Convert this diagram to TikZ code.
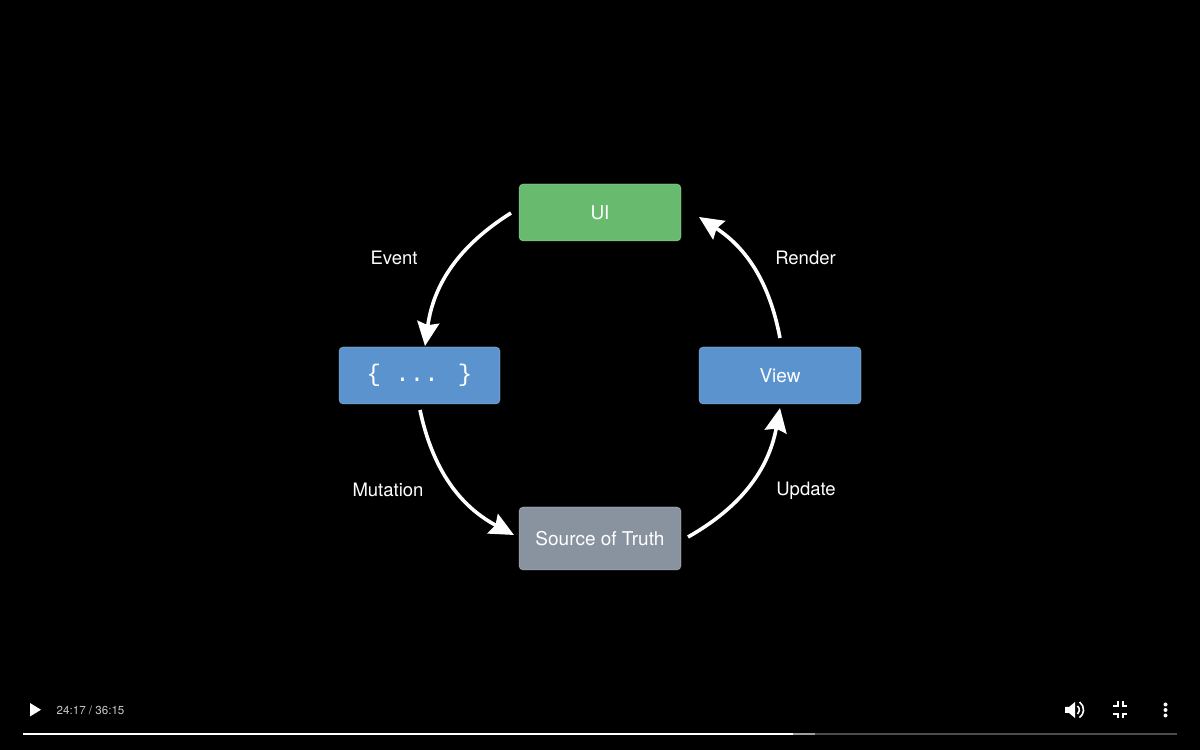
\documentclass[tikz,border=0pt]{standalone}
\usepackage{fontspec}
\setmainfont{TeX Gyre Heros}
\newfontfamily\monofont{Liberation Mono}
\usetikzlibrary{arrows.meta}
\definecolor{uigreen}{HTML}{67BA6E}
\definecolor{codeblue}{HTML}{5B93CF}
\definecolor{truthgray}{HTML}{8993A0}
\definecolor{timegray}{HTML}{C8C8C8}
\tikzset{
  box/.style={rounded corners=4pt, minimum width=162pt, minimum height=57pt, inner sep=0pt, text=white, font=\fontsize{19}{22}\selectfont, draw=white, draw opacity=0.25, line width=0.8pt},
  flow/.style={draw=white, line width=3.6pt, -{Stealth[length=24pt,width=22pt,inset=3pt]}},
  lbl/.style={text=white, font=\fontsize{18.5}{22}\selectfont},
}
\begin{document}
\begin{tikzpicture}[x=1pt,y=1pt]
\fill[black] (0,0) rectangle (1200,750);
\useasboundingbox (0,0) rectangle (1200,750);
% boxes
\node[box, fill=uigreen] (ui) at (600,537.5) {UI};
\node[box, fill=codeblue, minimum width=161pt] (code) at (419.5,374.5) {\monofont\fontsize{24}{26}\selectfont\{ ... \}};
\node[box, fill=codeblue] (view) at (780,374.5) {View};
\node[box, fill=truthgray, minimum height=63pt] (truth) at (600,211.5) {Source of Truth};
% arcs
\coordinate (e1) at (511,537);
\coordinate (e2) at (425,404);
\coordinate (m1) at (420,340);
\coordinate (m2) at (514,215);
\coordinate (u1) at (688,213);
\coordinate (u2) at (780,342);
\coordinate (r1) at (780,412);
\coordinate (r2) at (699,533);
\draw[flow] (e1) to[bend right=25] (e2);
\draw[flow] (m1) to[bend right=25] (m2);
\draw[flow] (u1) to[bend right=25] (u2);
\draw[flow] (r1) to[bend right=23] (r2);
% labels
\node[lbl] (ev) at (394,492) {Event};
\node[lbl] (re) at (805.5,492) {Render};
\node[lbl] (mu) at (388,260) {Mutation};
\node[lbl] (up) at (806,259) {Update};
% player controls
\fill[white] (30,47) -- (30,33.5) -- (41,40.25) -- cycle;
\node[text=timegray, font=\fontsize{11.6}{13}\selectfont, anchor=west, inner sep=0pt] (time) at (56.5,40) {24:17 / 36:15};
\fill[white!30!black] (23,14.7) rectangle (1177,17.3);
\fill[white!62!black] (793,14.7) rectangle (815,17.3);
\fill[white] (23,14.7) rectangle (793,17.3);
% volume icon
\fill[white] (1065,37) rectangle (1069,43) (1069,43) -- (1075,48) -- (1075,32) -- (1069,37) -- cycle;
\draw[white, line width=1.6pt] (1077.5,44) arc (50:-50:5.2);
\draw[white, line width=1.6pt] (1079.5,48) arc (55:-55:9.5);
% shrink icon
\begin{scope}[white, line width=2pt]
\draw (1113,36) -- (1117.5,36) -- (1117.5,31.5);
\draw (1122.5,31.5) -- (1122.5,36) -- (1127,36);
\draw (1113,44) -- (1117.5,44) -- (1117.5,48.5);
\draw (1122.5,48.5) -- (1122.5,44) -- (1127,44);
\end{scope}
% menu dots
\fill[white] (1165.5,45.5) circle (2pt) (1165.5,40) circle (2pt) (1165.5,34.5) circle (2pt);
\end{tikzpicture}
\end{document}
